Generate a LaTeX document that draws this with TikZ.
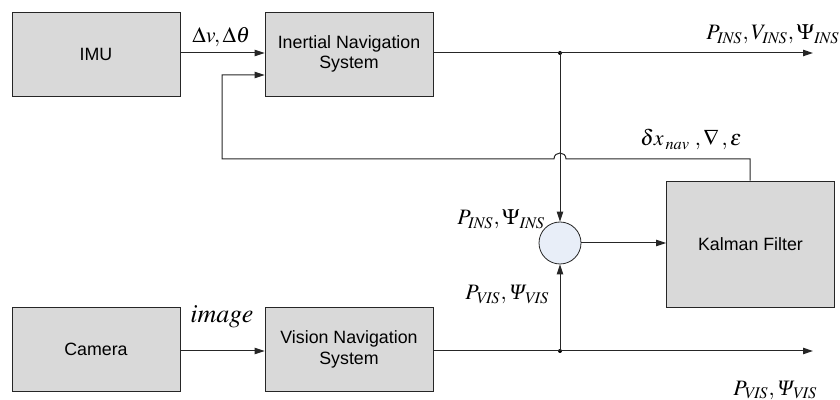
\documentclass[tikz,border=0pt]{standalone}
\usepackage{mathptmx}
\usepackage{fontspec}
\setmainfont{Liberation Sans}
\newfontfamily\timesfont{Liberation Serif}
\newcommand{\itPsi}{\mbox{\timesfont\itshape Ψ}}
\usepackage{tikz}
\usetikzlibrary{arrows.meta}
\definecolor{boxgray}{HTML}{D9D9D9}
\definecolor{sumblue}{HTML}{E8EEF8}
\tikzstyle{block} = [
    draw=black!85,
    fill=boxgray,
    rectangle,
    minimum width=84pt,
    minimum height=42pt,
    align=center,
    font=\fontsize{8.9}{10.4}\selectfont
    ]
\tikzstyle{sumnode} = [
    draw=black!85,
    fill=sumblue,
    circle,
    minimum size=21pt,
    inner sep=0pt
    ]
\tikzstyle{sig} = [
    font=\fontsize{11}{13}\selectfont,
    inner sep=0pt
    ]
\tikzstyle{wire} = [
    draw=black!85,
    line width=0.5pt,
    -{Triangle[length=5pt,width=3.2pt]}
    ]
\begin{document}
\begin{tikzpicture}[x=0.5pt,y=-0.5pt]
\useasboundingbox (0,0) rectangle (840,400);
% blocks
\node[block] (imu) at (96,54) {IMU};
\node[block] (ins) at (349,54) {Inertial Navigation\\System};
\node[block] (cam) at (96,349) {Camera};
\node[block] (vns) at (349,349) {Vision Navigation\\System};
\node[block, minimum height=63pt] (kf) at (750.5,244) {Kalman Filter};
\node[sumnode] (sum) at (560,243) {};
% junctions
\coordinate (jins) at (560,53);
\coordinate (jvns) at (560,351);
\coordinate (insout) at (813,53);
\coordinate (vnsout) at (813,351);
\coordinate (fbtop) at (750,159);
\coordinate (fbleft) at (222,159);
\fill (jins) circle (1pt);
\fill (jvns) circle (1pt);
% connectors
\draw[wire] (imu.east |- 0,53) -- (ins.west |- 0,53);
\draw[wire] (cam.east |- 0,351) -- (vns.west |- 0,351);
\draw[wire] (ins.east |- jins) -- (insout);
\draw[wire] (vns.east |- jvns) -- (vnsout);
\draw[wire] (jins) -- (sum.north);
\draw[wire] (jvns) -- (sum.south);
\draw[wire] (sum.east) -- (kf.west |- sum.east);
\draw[wire] (kf.north -| fbtop) -- (fbtop) -- (566,159)
    .. controls (566,151) and (554,151) .. (554,159)
    -- (fbleft) -- (222,75) -- (ins.west |- 0,75);
% labels
\node[sig, anchor=base west] (lbldv) at (192,43) {$\Delta v,\Delta\theta$};
\node[sig, anchor=base west, font=\fontsize{13}{15}\selectfont] (lblimg) at (190,323) {$\mathit{image}$};
\node[sig, anchor=base west] (lblins) at (706,40) {$P_{\mathit{INS}},V_{\mathit{INS}},\Psi_{\mathit{INS}}$};
\node[sig, anchor=base west] (lblkf) at (640,146) {$\delta x_{\,\mathit{nav}}\;,\nabla\,,\varepsilon$};
\node[sig, anchor=base west] (lblsum) at (457,225) {$P_{\mathit{INS}},\Psi_{\mathit{INS}}$};
\node[sig, anchor=base west] (lblvis) at (465,300) {$P_{\mathit{VIS}},\itPsi_{\mathit{VIS}}$};
\node[sig, anchor=base west] (lblout) at (733,395) {$P_{\mathit{VIS}},\itPsi_{\mathit{VIS}}$};
\end{tikzpicture}
\end{document}
